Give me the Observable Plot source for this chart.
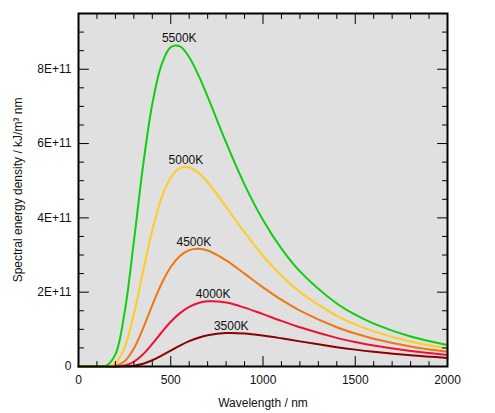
<!DOCTYPE html>
<html><head><meta charset="utf-8">
<script src="https://cdn.jsdelivr.net/npm/d3@7"></script>
<script src="https://cdn.jsdelivr.net/npm/@observablehq/plot@0.6"></script>
<style>
html,body{margin:0;padding:0;background:#fff}
#chart svg{display:block}
</style>
</head><body><div id="chart"></div>
<script>
// Wavelength grid (nm)
const wavelengths = [0, 50, 100, 150, 200, 250, 300, 350, 400, 450, 500, 550, 600, 650, 700, 800, 900, 1000, 1100, 1200, 1400, 1500, 1600, 1800, 2000];
// Spectral energy density values, in units of 1E+11
const series5500 = [0, 0, 0, 0.018, 0.326, 1.462, 3.360, 5.405, 7.063, 8.119, 8.594, 8.614, 8.323, 7.841, 7.260, 6.029, 4.896, 3.943, 3.172, 2.561, 1.697, 1.395, 1.155, 0.807, 0.579];
const series5000 = [0, 0, 0, 0.003, 0.088, 0.513, 1.405, 2.559, 3.670, 4.534, 5.082, 5.337, 5.357, 5.211, 4.958, 4.300, 3.608, 2.981, 2.448, 2.009, 1.365, 1.133, 0.946, 0.671, 0.486];
const series4500 = [0, 0, 0, 0, 0.018, 0.143, 0.484, 1.026, 1.650, 2.226, 2.677, 2.977, 3.133, 3.172, 3.121, 2.857, 2.498, 2.131, 1.795, 1.504, 1.055, 0.886, 0.748, 0.539, 0.396];
const series4000 = [0, 0, 0, 0, 0.002, 0.029, 0.128, 0.328, 0.607, 0.915, 1.203, 1.437, 1.606, 1.709, 1.755, 1.721, 1.585, 1.409, 1.227, 1.056, 0.771, 0.658, 0.563, 0.415, 0.310];
const series3500 = [0, 0, 0, 0, 0, 0.004, 0.023, 0.076, 0.168, 0.292, 0.430, 0.564, 0.681, 0.774, 0.840, 0.900, 0.888, 0.833, 0.758, 0.676, 0.521, 0.454, 0.396, 0.300, 0.229];

const temperatures = ["3500K", "4000K", "4500K", "5000K", "5500K"];
const seriesList = [series3500, series4000, series4500, series5000, series5500];
const colors = ["#8b0000", "#ee1133", "#ee7711", "#ffcc22", "#11cc11"];

// Label anchors (wavelength, value in 1E+11)
const labelWavelength = [828, 730, 625, 582, 546];
const labelValue = [0.90, 1.76, 3.17, 5.37, 8.65];

const xMajorTicks = [0, 500, 1000, 1500, 2000];
const xMinorTicks = [100, 200, 300, 400, 600, 700, 800, 900, 1100, 1200, 1300, 1400, 1600, 1700, 1800, 1900];
const yMajorTicks = [0, 2, 4, 6, 8];
const yMinorTicks = [0.5, 1, 1.5, 2.5, 3, 3.5, 4.5, 5, 5.5, 6.5, 7, 7.5, 8.5, 9];

const xLabel = "Wavelength / nm";
const yLabel = "Spectral energy density / kJ/m³ nm";

const rows = [];
temperatures.forEach((t, i) => {
  wavelengths.forEach((w, j) => rows.push({T: t, w, v: seriesList[i][j]}));
});
const labels = temperatures.map((t, i) => ({T: t, w: labelWavelength[i], v: labelValue[i]}));

const tickShape = {draw(ctx, l) { ctx.moveTo(0, 0); ctx.lineTo(0, -l); }};
const tickMarks = (data, opts) => Plot.vector(data, {x: opts.x, y: opts.y, frameAnchor: opts.frameAnchor, length: opts.length, rotate: opts.rotate, anchor: "start", shape: tickShape, stroke: "black", strokeWidth: 1});

const chart = Plot.plot({
  width: 495,
  height: 413,
  marginLeft: 78,
  marginRight: 48,
  marginTop: 13,
  marginBottom: 47,
  style: {fontFamily: "'Liberation Sans', Arial, sans-serif", fontSize: "12px", background: "#fff"},
  x: {domain: [0, 2000]},
  y: {domain: [0, 9.5]},
  color: {domain: temperatures, range: colors},
  marks: [
    Plot.frame({fill: "#e0e0e0", stroke: null}),
    Plot.line(rows, {x: "w", y: "v", z: "T", stroke: "T", strokeWidth: 2, curve: "catmull-rom"}),
    Plot.text(labels, {x: "w", y: "v", text: "T", dy: -7, fill: "#111", fontSize: 12}),
    // inward ticks
    tickMarks(xMajorTicks, {x: d => d, frameAnchor: "bottom", length: 10, rotate: 0}),
    tickMarks(xMinorTicks, {x: d => d, frameAnchor: "bottom", length: 5, rotate: 0}),
    tickMarks(xMajorTicks, {x: d => d, frameAnchor: "top", length: 10, rotate: 180}),
    tickMarks(xMinorTicks, {x: d => d, frameAnchor: "top", length: 5, rotate: 180}),
    tickMarks(yMajorTicks, {y: d => d, frameAnchor: "left", length: 10, rotate: 90}),
    tickMarks(yMinorTicks, {y: d => d, frameAnchor: "left", length: 5, rotate: 90}),
    tickMarks(yMajorTicks, {y: d => d, frameAnchor: "right", length: 10, rotate: -90}),
    tickMarks(yMinorTicks, {y: d => d, frameAnchor: "right", length: 5, rotate: -90}),
    Plot.axisX({anchor: "bottom", ticks: xMajorTicks, tickSize: 0, tickPadding: 9, label: null, fill: "#111", tickFormat: d => String(d)}),
    Plot.axisY({anchor: "left", ticks: yMajorTicks, tickSize: 0, tickPadding: 7, label: null, fill: "#111", tickFormat: d => d === 0 ? "0" : d + "E+11"}),
    Plot.text([xLabel], {text: d => d, frameAnchor: "bottom", textAnchor: "middle", lineAnchor: "middle", dy: 37, fill: "#111", fontSize: 12}),
    Plot.text([yLabel], {text: d => d, frameAnchor: "left", textAnchor: "middle", lineAnchor: "middle", dx: -60, rotate: -90, fill: "#111", fontSize: 12}),
    Plot.frame({stroke: "black", strokeWidth: 2})
  ]
});
document.getElementById("chart").appendChild(chart);
</script>
</body></html>
